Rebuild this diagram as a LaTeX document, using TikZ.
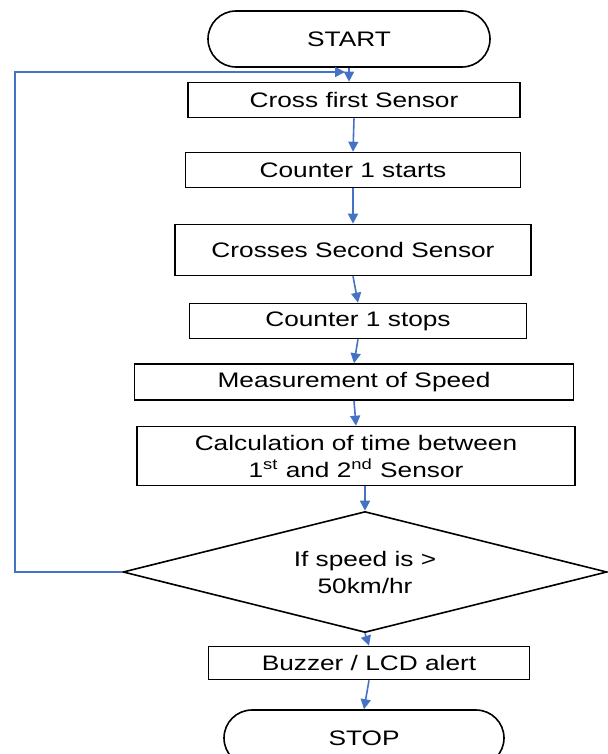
\documentclass[tikz,border=0pt]{standalone}
\usepackage{fontspec}
\setmainfont{Liberation Sans}[FakeStretch=1.25]
\usetikzlibrary{shapes.geometric,shapes.misc,arrows.meta}
\definecolor{flowblue}{HTML}{4472C4}

\begin{document}
\begin{tikzpicture}[x=0.5pt, y=-0.5pt, thick, font=\fontsize{10.5}{13.5}\selectfont,
        box/.style={draw, rectangle, inner sep=0pt, align=center},
        term/.style={draw, rounded rectangle, inner sep=0pt, minimum height=28pt},
        link/.style={flowblue, line width=0.8pt, -{Triangle[length=5pt,width=5pt]}}]
        \useasboundingbox (0,0) rectangle (607,754);
        % Terminals
        \node[term, minimum width=141pt] (start) at (349,39) {START};
        \node[term, minimum width=140pt] (stop) at (364,738) {STOP};
        % Steps
        \node[box, minimum width=166pt, minimum height=17.5pt] (cross1) at (354,100) {Cross first Sensor};
        \node[box, minimum width=167.5pt, minimum height=17.5pt] (count1) at (353,170) {Counter 1 starts};
        \node[box, minimum width=178pt, minimum height=25.5pt] (cross2) at (353,250) {Crosses Second Sensor};
        \node[box, minimum width=168.5pt, minimum height=17.5pt] (count2) at (358,321) {Counter 1 stops};
        \node[box, minimum width=219.5pt, minimum height=18pt] (speed) at (354,382) {Measurement of Speed};
        \node[box, minimum width=219pt, minimum height=29.5pt] (calc) at (356,456)
                {Calculation of time between\\1\textsuperscript{st} and 2\textsuperscript{nd} Sensor};
        % Decision
        \node[draw, diamond, aspect=4, inner sep=0pt, align=center, minimum width=242pt, minimum height=60.5pt] (check) at (365,572)
                {If speed is >\\50km/hr};
        \node[box, minimum width=160.5pt, minimum height=16.5pt] (alert) at (369,663) {Buzzer / LCD alert};
        % Connectors
        \coordinate (back) at (345,72);
        \draw[link] (start.south) -- (start.south |- cross1.north);
        \draw[link] (cross1.south) -- (count1.north);
        \draw[link] (count1.south) -- (cross2.north);
        \draw[link] (cross2.south) -- (count2.north);
        \draw[link] (count2.south) -- (speed.north);
        \draw[link] (speed.south) -- (calc.north);
        \draw[link] (check.north |- calc.south) -- (check.north);
        \draw[link] (check.south) -- (alert.north);
        \draw[link] (alert.south) -- (stop.north);
        % Loop back
        \draw[link] (check.west) -- ++(-107,0) |- (back);
\end{tikzpicture}
\end{document}
